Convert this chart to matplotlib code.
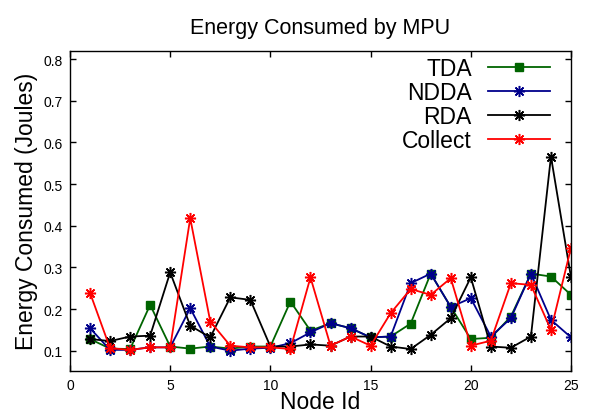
import matplotlib
matplotlib.use("Agg")
import matplotlib.pyplot as plt

plt.rcParams['font.family'] = ['Liberation Sans', 'DejaVu Sans']

node_ids = list(range(1, 26))
tda = [0.128, 0.105, 0.104, 0.210, 0.110, 0.105, 0.110, 0.105, 0.110, 0.110,
       0.218, 0.148, 0.166, 0.154, 0.132, 0.134, 0.165, 0.285, 0.205, 0.128,
       0.131, 0.182, 0.285, 0.278, 0.234]
ndda = [0.154, 0.102, 0.102, 0.108, 0.108, 0.202, 0.110, 0.100, 0.105, 0.107,
        0.118, 0.144, 0.166, 0.154, 0.132, 0.134, 0.262, 0.285, 0.205, 0.226,
        0.134, 0.178, 0.285, 0.174, 0.132]
rda = [0.128, 0.123, 0.134, 0.136, 0.288, 0.160, 0.132, 0.228, 0.222, 0.110,
       0.110, 0.115, 0.112, 0.134, 0.134, 0.110, 0.104, 0.138, 0.178, 0.276,
       0.110, 0.107, 0.134, 0.566, 0.276]
collect = [0.239, 0.106, 0.102, 0.108, 0.108, 0.418, 0.170, 0.112, 0.108, 0.108,
           0.104, 0.276, 0.112, 0.134, 0.112, 0.190, 0.248, 0.234, 0.274, 0.112,
           0.124, 0.262, 0.258, 0.150, 0.347]

series_names = ['TDA', 'NDDA', 'RDA', 'Collect']
xticks = [0, 5, 10, 15, 20, 25]
yticks = [0.1, 0.2, 0.3, 0.4, 0.5, 0.6, 0.7, 0.8]

fig = plt.figure(figsize=(5.9, 4.14), dpi=100)
ax = fig.add_axes([0.1186, 0.1022, 0.8492, 0.7729])

star = (8, 2, 0)
ax.plot(node_ids, tda, color='#006400', lw=1.3, marker='s', ms=6.2, label=series_names[0])
ax.plot(node_ids, ndda, color='#00008b', lw=1.3, marker=star, ms=8, mew=1.1, label=series_names[1])
ax.plot(node_ids, rda, color='black', lw=1.3, marker=star, ms=8, mew=1.1, label=series_names[2])
ax.plot(node_ids, collect, color='#ff0000', lw=1.3, marker=star, ms=8, mew=1.1, label=series_names[3])

ax.set_xlim(0, 25)
ax.set_ylim(0.052, 0.82)
ax.set_xticks(xticks)
ax.set_yticks(yticks)
ax.set_yticklabels([f"{v:.1f}" for v in yticks])
ax.tick_params(direction='in', length=4, width=1, top=True, right=True, labelsize=10, pad=5)
for s in ax.spines.values():
    s.set_linewidth(1.0)

ax.set_title('Energy Consumed by MPU', fontsize=15.5, pad=13)
ax.set_xlabel('Node Id', fontsize=16.5, labelpad=-1)
ax.set_ylabel('Energy Consumed (Joules)', fontsize=16.5, labelpad=4)

leg = ax.legend(loc='upper right', bbox_to_anchor=(0.962, 0.988), frameon=False,
                markerfirst=False, fontsize=16.5, handlelength=2.7, handletextpad=0.7,
                labelspacing=0.05, borderpad=0.1, borderaxespad=0)

fig.savefig('out.png', dpi=100)
